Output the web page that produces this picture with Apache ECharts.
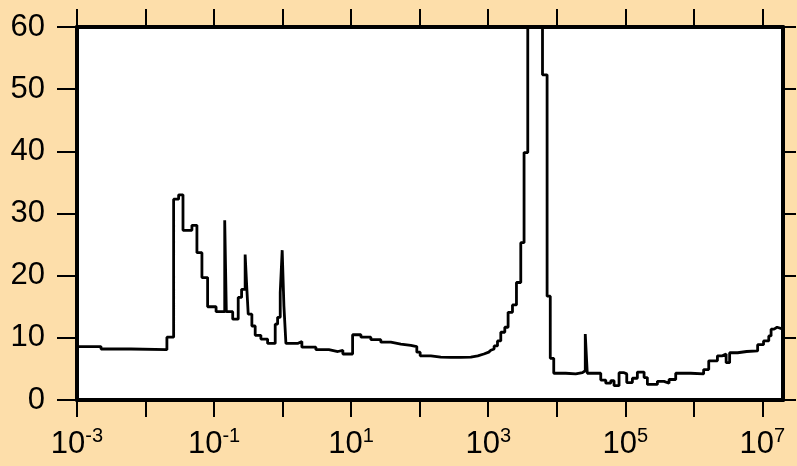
<!DOCTYPE html>
<html>
<head>
<meta charset="utf-8">
<script src="https://cdn.jsdelivr.net/npm/echarts@6/dist/echarts.min.js"></script>
<style>
    html, body { margin: 0; padding: 0; background: #fddeaa; }
    #spectrum-graph { width: 797px; height: 466px; }
</style>
</head>
<body>
<div id="spectrum-graph"></div>
<script>
// Frequency / period values (x, log scale) and amplitude (y).
const x_values = [
    1.0e-3, 2.24e-3, 6.13e-3, 2.05e-2, 2.57e-2, 3.04e-2, 3.52e-2, 4.75e-2, 5.62e-2, 6.65e-2,
    8.05e-2, 0.107, 0.143, 0.151, 0.187, 0.225, 0.252, 0.284, 0.301, 0.315,
    0.356, 0.398, 0.482, 0.604, 0.780, 0.845, 0.923, 0.986, 1.045, 1.117,
    1.656, 1.91, 3.06, 4.73, 6.40, 7.57, 10.5, 13.9, 19.4, 27.1,
    37.9, 53.1, 74.3, 90.8, 101.6, 145.5, 203, 284, 398, 557,
    705, 863, 1019, 1091, 1219, 1365, 1525, 1746, 1950, 2259,
    2582, 2985, 3334, 3776, 6194, 7228, 8042, 9036, 13520, 18920,
    23710, 26060, 27870, 43850, 51880, 61380, 68550, 81100, 95940, 1.05e5,
    1.27e5, 1.50e5, 1.88e5, 2.10e5, 2.94e5, 3.67e5, 4.35e5, 5.44e5, 9.0e5, 1.39e6,
    1.65e6, 2.21e6, 2.61e6, 2.96e6, 3.33e6, 4.36e6, 5.90e6, 8.53e6, 1.04e7, 1.24e7,
    1.34e7, 1.48e7, 1.64e7
];
const y_values = [
    8.6, 8.2, 8.1, 10.1, 32.3, 33.0, 27.3, 28.1, 23.7, 19.7,
    15.0, 14.2, 28.9, 14.2, 13.0, 16.5, 17.8, 23.4, 17.8, 13.8,
    11.9, 10.4, 9.8, 9.1, 12.2, 13.3, 17.3, 24.1, 15.1, 9.1,
    9.4, 8.5, 8.1, 7.8, 8.0, 7.4, 10.5, 10.1, 9.7, 9.3,
    9.0, 8.8, 8.6, 7.7, 7.1, 6.9, 6.85, 6.85, 6.9, 7.1,
    7.4, 7.7, 8.0, 8.2, 8.7, 9.5, 10.9, 11.7, 14.1, 15.3,
    18.9, 25.3, 39.8, 90, 52.3, 16.7, 6.7, 4.3, 4.2, 4.4,
    4.7, 10.6, 4.3, 3.2, 2.7, 3.1, 2.3, 4.4, 4.2, 2.8,
    3.5, 4.5, 3.6, 2.5, 3.0, 2.7, 3.3, 4.3, 4.2, 4.9,
    6.3, 7.1, 7.4, 6.0, 7.6, 7.8, 7.9, 8.9, 9.5, 10.3,
    11.4, 11.7, 11.4
];
const x_min = 1e-3;
const x_max = 2e7;
const x_tick_values = [1e-3, 1e-2, 1e-1, 1e0, 1e1, 1e2, 1e3, 1e4, 1e5, 1e6, 1e7];
const x_label_values = [1e-3, 1e-1, 1e1, 1e3, 1e5, 1e7];

const FONT = 'Liberation Sans, Arial, sans-serif';

let series_data = x_values.map(function (x, i) { return [x, y_values[i]]; });
// hold the last level up to the right edge
series_data.push([x_max, y_values[y_values.length - 1]]);

let spectrum_graph = echarts.init(document.getElementById('spectrum-graph'));

let axis_line = { show: true, onZero: false, lineStyle: { color: '#000', width: 4 } };
let tick_style = { width: 2, color: '#000' };

spectrum_graph.setOption({
    animation: false,
    backgroundColor: '#fddeaa',
    grid: {
        left: 77, right: 14, top: 27, bottom: 66,
        outerBoundsMode: 'none',
        show: true, backgroundColor: '#fff', borderWidth: 0
    },
    xAxis: [
        {
            type: 'log', logBase: 10, min: x_min, max: x_max,
            position: 'bottom',
            axisLine: axis_line,
            splitLine: { show: false },
            minorTick: { show: false },
            axisTick: { show: true, length: 17, lineStyle: tick_style, customValues: x_tick_values },
            axisLabel: {
                customValues: x_label_values,
                margin: 26,
                formatter: function (v) {
                    return '{a|10}{b|' + Math.round(Math.log10(v)) + '}';
                },
                rich: {
                    a: { fontSize: 31, fontFamily: FONT, color: '#000' },
                    b: { fontSize: 20, fontFamily: FONT, color: '#000', padding: [0, 0, 16, 0] }
                }
            }
        },
        {
            type: 'log', logBase: 10, min: x_min, max: x_max,
            position: 'top',
            axisLine: axis_line,
            splitLine: { show: false },
            axisTick: { show: true, length: 18, lineStyle: tick_style, customValues: x_tick_values },
            axisLabel: { show: false }
        }
    ],
    yAxis: [
        {
            type: 'value', min: 0, max: 60, interval: 10,
            position: 'left',
            axisLine: axis_line,
            splitLine: { show: false },
            axisTick: { show: true, length: 20, lineStyle: tick_style },
            axisLabel: { fontSize: 31, fontFamily: FONT, color: '#000', margin: 32 }
        },
        {
            type: 'value', min: 0, max: 60, interval: 10,
            position: 'right',
            axisLine: axis_line,
            splitLine: { show: false },
            axisTick: { show: false },
            axisLabel: { show: false }
        },
        {
            // outer ticks of the right frame: an axis sitting at the page edge with inward ticks
            type: 'value', min: 0, max: 60, interval: 10,
            position: 'right', offset: 13,
            axisLine: { show: false, onZero: false },
            splitLine: { show: false },
            axisTick: { show: true, inside: true, length: 13, lineStyle: tick_style },
            axisLabel: { show: false }
        }
    ],
    series: [
        {
            type: 'line',
            step: 'end',
            xAxisIndex: 0,
            yAxisIndex: 0,
            showSymbol: false,
            clip: true,
            lineStyle: { color: '#000', width: 2.8 },
            data: series_data
        }
    ]
});

window.addEventListener('resize', function () {
    spectrum_graph.resize();
});
</script>
</body>
</html>
